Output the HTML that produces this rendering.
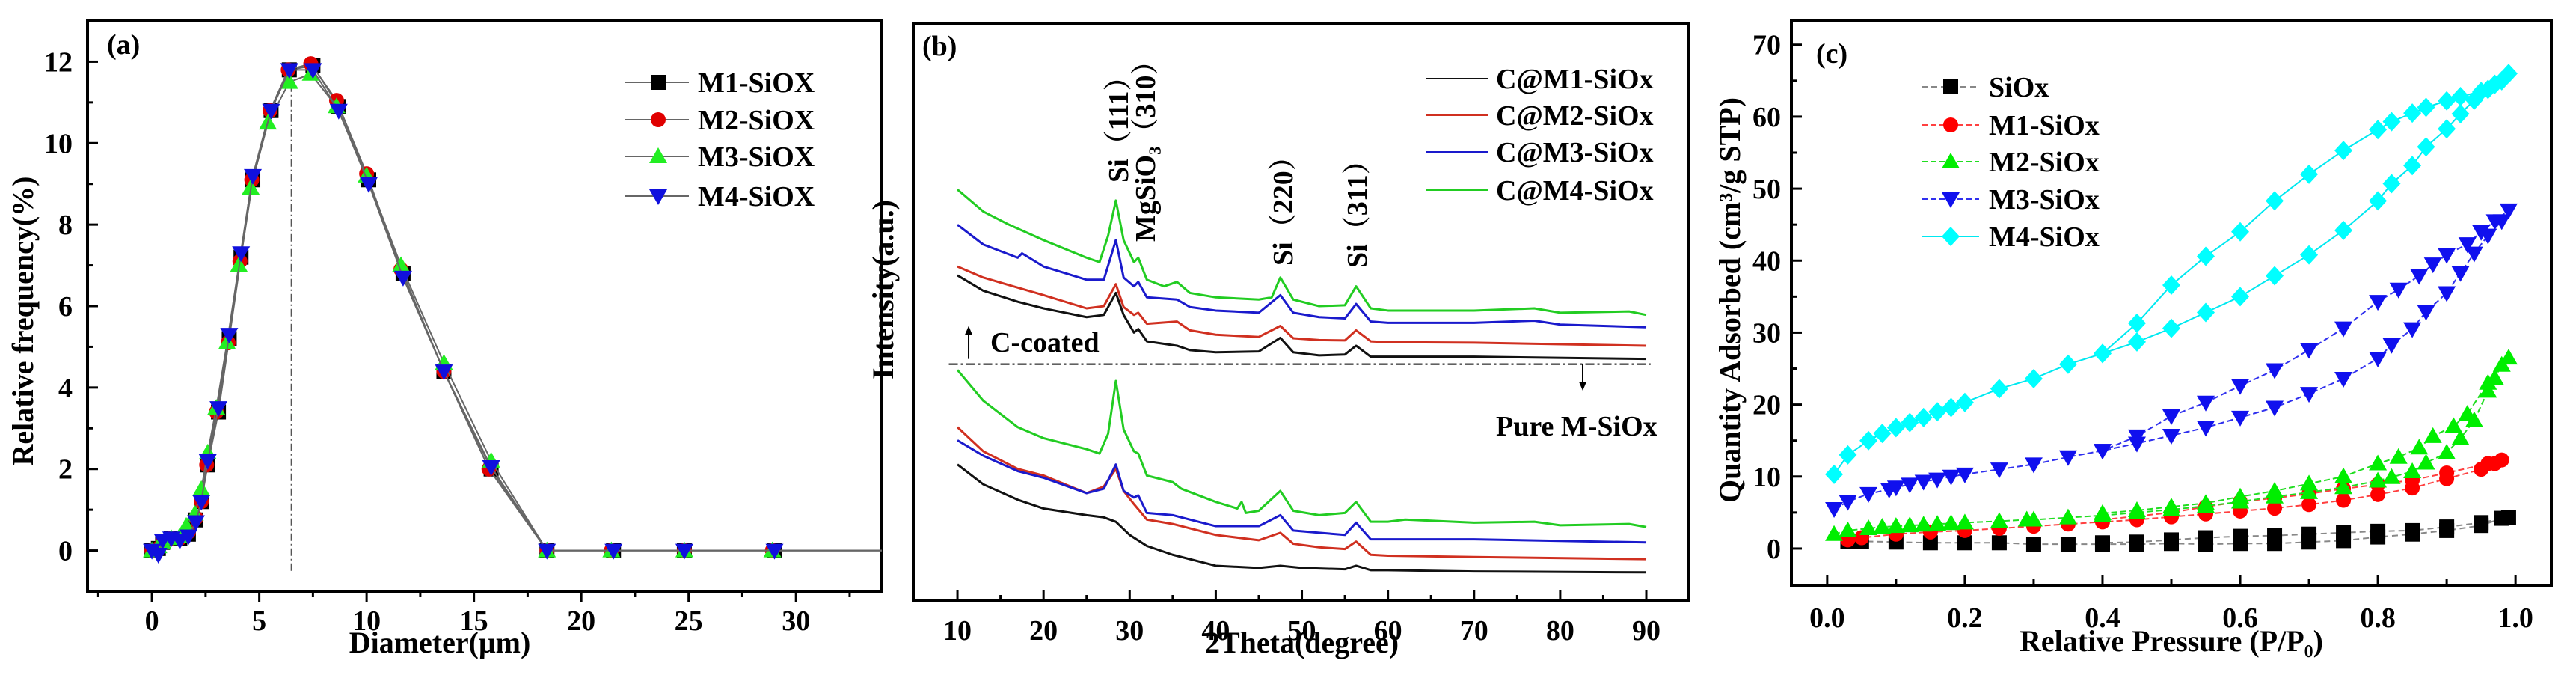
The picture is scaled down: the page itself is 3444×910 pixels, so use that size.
<!DOCTYPE html>
<html><head><meta charset="utf-8"><style>
html,body{margin:0;padding:0;background:#fff;}
svg{display:block;font-family:"Liberation Serif",serif;font-weight:bold;}
</style></head><body>
<svg id="fig" width="3444" height="910" viewBox="0 0 3444 910" xmlns="http://www.w3.org/2000/svg"></svg>
<script>
// ---------- Panel (a) data ----------
const aX_M4=[0,0.3,0.5,0.9,1.3,1.7,2.05,2.3,2.6,3.1,3.6,4.15,4.7,5.55,6.4,7.5,8.7,10.1,11.7,13.6,15.8,18.4,21.5,24.8,29.0];
const aY_M4=[0,-0.1,0.25,0.3,0.25,0.35,0.7,1.2,2.2,3.5,5.3,7.3,9.2,10.8,11.8,11.8,10.8,9.0,6.7,4.4,2.05,0,0,0,0];
const aX_M1=[0,0.3,0.5,0.9,1.3,1.7,2.05,2.3,2.6,3.1,3.6,4.15,4.7,5.55,6.4,7.5,8.7,10.1,11.7,13.6,15.8,18.4,21.5,24.8,29.0];
const aY_M1=[0,0.05,0.2,0.3,0.3,0.4,0.75,1.2,2.1,3.4,5.2,7.2,9.1,10.8,11.8,11.9,10.9,9.1,6.8,4.4,2.0,0,0,0,0];
const aX_M2=[0,0.3,0.5,0.9,1.3,1.7,2.05,2.3,2.55,3.0,3.55,4.1,4.65,5.5,6.35,7.4,8.6,10.0,11.6,13.6,15.7,18.4,21.4,24.8,28.9];
const aY_M2=[0,0.05,0.2,0.3,0.3,0.45,0.8,1.2,2.1,3.4,5.1,7.1,9.1,10.8,11.8,11.95,11.05,9.25,6.9,4.4,2.0,0,0,0,0];
const aX_M3=[0,0.3,0.5,0.9,1.3,1.6,2.0,2.3,2.6,3.0,3.5,4.05,4.6,5.4,6.4,7.4,8.6,10.0,11.6,13.6,15.8,18.4,21.4,24.8,28.9];
const aY_M3=[0,0.1,0.2,0.3,0.35,0.6,0.9,1.5,2.4,3.5,5.1,7.0,8.9,10.5,11.5,11.7,10.9,9.2,7.0,4.6,2.2,0,0,0,0];
const aXTicks=[0,5,10,15,20,25,30];
const aYTicks=[0,2,4,6,8,10,12];
const aNames=["M1-SiOX","M2-SiOX","M3-SiOX","M4-SiOX"];
const aMedian=6.5;

// ---------- Panel (b) data (2theta, intensity a.u.) ----------
const b_tt_M4u=[10,13,16,20,25,26.5,27.5,28.4,29.3,30.5,31,32,34,35.5,37,40,45,46.5,47.5,49,52,55,56.3,58,60,70,77,80,88,90];
const b_I_M4u=[935,885,855,820,780,770,830,910,820,770,780,730,715,725,700,690,685,690,735,685,670,672,715,665,660,660,665,655,658,650];
const b_tt_M3u=[10,13,17,17.5,20,25,27,28.4,29.3,30.5,31,32,35.5,37,40,45,47.5,49,52,55,56.3,58,60,70,77,80,90];
const b_I_M3u=[855,810,780,790,760,730,730,820,735,715,725,690,685,668,660,655,695,655,645,642,675,635,632,632,637,628,622];
const b_tt_M2u=[10,13,17,20,25,27,28.4,29.3,30.5,31,32,35.5,37,40,45,47.5,49,52,55,56.3,58,60,70,90];
const b_I_M2u=[760,735,712,695,665,670,720,668,650,655,630,635,615,605,600,625,597,593,592,615,590,588,587,580];
const b_tt_M1u=[10,13,17,20,25,27,28.4,29.3,30.5,31,32,35.5,37,40,45,47.5,49,52,55,56.3,58,60,70,90];
const b_I_M1u=[740,705,680,665,645,650,700,650,610,618,590,580,570,565,567,598,565,558,560,580,555,555,555,550];
const b_tt_M4l=[10,13,17,20,25,26.5,27.5,28.4,29.3,30.5,31,32,35,36,40,42.5,43,43.5,45,47.5,49,52,55,56.3,58,60,62,70,77,80,88,90];
const b_I_M4l=[525,455,395,370,345,335,380,500,390,340,335,285,270,255,225,210,225,200,205,250,205,195,200,225,180,180,185,178,180,172,175,168];
const b_tt_M3l=[10,13,17,20,25,27,28.4,29.3,30.5,31,32,35,36,40,45,47.5,49,52,55,56.3,58,60,70,90];
const b_I_M3l=[365,330,295,280,245,255,310,250,235,240,200,195,190,170,170,195,160,155,150,178,140,140,140,133];
const b_tt_M2l=[10,13,17,20,25,27,28.4,29.3,30.5,32,35,40,45,47.5,49,52,55,56.3,58,60,70,90];
const b_I_M2l=[395,340,300,285,245,260,300,250,220,185,175,150,138,155,130,122,118,135,105,103,100,95];
const b_tt_M1l=[10,13,17,20,25,27,28.4,30,32,35,40,45,47.5,50,55,56.3,58,60,70,90];
const b_I_M1l=[310,265,230,210,195,190,180,150,125,105,80,75,80,75,72,80,70,70,67,65];
const bXTicks=[10,20,30,40,50,60,70,80,90];
const bNames=["C@M1-SiOx","C@M2-SiOx","C@M3-SiOx","C@M4-SiOx"];
const bDivider=538;

// ---------- Panel (c) data ----------
const cP_S=[0.03,0.05,0.1,0.15,0.2,0.25,0.3,0.35,0.4,0.45,0.5,0.55,0.6,0.65,0.7,0.75,0.8,0.85,0.9,0.95,0.98,0.99,0.95,0.9,0.85,0.8,0.75,0.7,0.65,0.6,0.55,0.5,0.45,0.4];
const cQ_S=[1,1,0.9,0.8,0.8,0.8,0.6,0.6,0.6,0.6,0.7,0.6,0.7,0.7,0.9,1.1,1.6,2.0,2.5,3.2,4.2,4.3,3.6,3.0,2.5,2.4,2.2,2.0,1.8,1.7,1.5,1.2,0.9,0.8];
const cP_1=[0.03,0.05,0.1,0.15,0.2,0.25,0.3,0.35,0.4,0.45,0.5,0.55,0.6,0.65,0.7,0.75,0.8,0.85,0.9,0.95,0.97,0.98,0.96,0.9,0.85,0.8,0.75,0.7,0.65,0.6,0.55,0.5,0.45,0.4];
const cQ_1=[1.2,1.5,2.0,2.3,2.5,2.8,3.1,3.4,3.7,4.0,4.4,4.8,5.2,5.6,6.1,6.7,7.5,8.4,9.7,11,11.8,12.3,11.8,10.5,9.5,8.9,8.3,7.6,7.0,6.5,5.8,5.0,4.5,4.0];
const cP_2=[0.01,0.03,0.06,0.08,0.1,0.12,0.14,0.16,0.18,0.2,0.25,0.29,0.3,0.35,0.4,0.45,0.5,0.55,0.6,0.65,0.7,0.75,0.8,0.82,0.85,0.87,0.9,0.92,0.94,0.96,0.97,0.98,0.99,0.96,0.93,0.91,0.88,0.86,0.83,0.8,0.75,0.7,0.65,0.6,0.55,0.5,0.45,0.4];
const cQ_2=[2,2.5,2.8,3.0,3.1,3.2,3.3,3.4,3.5,3.6,3.8,4.0,4.0,4.3,4.6,5.0,5.4,5.9,6.5,7.2,7.8,8.5,9.4,9.9,10.7,11.9,13.3,15.3,17.8,21.9,23.7,25.5,26.5,23,18.7,17,15.6,14,12.7,11.8,10,9.0,8.0,7.2,6.3,5.8,5.3,4.9];
const cP_3=[0.01,0.03,0.06,0.09,0.1,0.12,0.14,0.16,0.18,0.2,0.25,0.3,0.35,0.4,0.45,0.5,0.55,0.6,0.65,0.7,0.75,0.8,0.82,0.85,0.87,0.9,0.92,0.94,0.96,0.98,0.99,0.97,0.95,0.93,0.9,0.88,0.86,0.83,0.8,0.75,0.7,0.65,0.6,0.55,0.5,0.45,0.4];
const cQ_3=[5.5,6.5,7.6,8.2,8.5,8.9,9.3,9.6,10,10.3,11.0,11.7,12.7,13.6,14.6,15.7,16.8,18.2,19.6,21.5,23.6,26.4,28.3,30.5,32.9,35.5,38.3,41,43.5,45.5,47,45.5,44,42.3,40.8,39.5,37.9,36,34.3,30.6,27.6,24.8,22.6,20.3,18.4,15.6,13.6];
const cP_4=[0.01,0.03,0.06,0.08,0.1,0.12,0.14,0.16,0.18,0.2,0.25,0.3,0.35,0.4,0.45,0.5,0.55,0.6,0.65,0.7,0.75,0.8,0.82,0.85,0.87,0.9,0.92,0.94,0.96,0.98,0.99,0.97,0.95,0.92,0.9,0.87,0.85,0.82,0.8,0.75,0.7,0.65,0.6,0.55,0.5,0.45,0.4];
const cQ_4=[10.3,13,15,16,16.8,17.5,18.2,19,19.6,20.3,22.2,23.6,25.6,27.1,28.7,30.6,32.8,35.0,37.9,40.8,44.2,48.3,50.7,53.2,55.8,58.3,60.4,62.3,63.8,65,66,64.5,63.5,62.8,62.2,61.3,60.5,59.3,58.2,55.3,52,48.3,44,40.6,36.6,31.3,27.1];
const cXTicks=[0,0.2,0.4,0.6,0.8,1.0];
const cYTicks=[0,10,20,30,40,50,60,70];
const cNames=["SiOx","M1-SiOx","M2-SiOx","M3-SiOx","M4-SiOx"];

const NS="http://www.w3.org/2000/svg";
const svg=document.getElementById('fig');
const TK=38, TT=40, LG=38;
function el(tag,attrs,parent){const e=document.createElementNS(NS,tag);for(const k in attrs)e.setAttribute(k,attrs[k]);(parent||svg).appendChild(e);return e;}
function lin(d0,d1,r0,r1){return v=>r0+(v-d0)/(d1-d0)*(r1-r0);}
function marker(g,shape,x,y,s,fill){
  let m;
  if(shape==='sq')m=el('rect',{x:x-s/2,y:y-s/2,width:s,height:s,fill:fill},g);
  else if(shape==='ci')m=el('circle',{cx:x,cy:y,r:s/2,fill:fill},g);
  else if(shape==='tu')m=el('polygon',{points:`${x},${y-s*0.6} ${x-s*0.6},${y+s*0.45} ${x+s*0.6},${y+s*0.45}`,fill:fill},g);
  else if(shape==='td')m=el('polygon',{points:`${x},${y+s*0.6} ${x-s*0.6},${y-s*0.45} ${x+s*0.6},${y-s*0.45}`,fill:fill},g);
  else m=el('polygon',{points:`${x},${y-s*0.65} ${x+s*0.6},${y} ${x},${y+s*0.65} ${x-s*0.6},${y}`,fill:fill},g);
  return m;
}
function text(g,x,y,str,size,anchor,extra){const t=el('text',Object.assign({x:x,y:y,'font-size':size,'text-anchor':anchor||'middle'},extra||{}),g);t.textContent=str;return t;}

// ================= Panel A =================
{
const L=117,R=1179,T=28,B=790;
const X=lin(-3,34,L,R),Y=lin(-1,13,B,T);
const g=el('g',{});


const f=el('rect',{x:L,y:T,width:R-L,height:B-T,fill:'none',stroke:'#000','stroke-width':4},g);


aXTicks.forEach(v=>{el('line',{x1:X(v),x2:X(v),y1:B,y2:B+14,stroke:'#000','stroke-width':3},g);
  const t=text(g,X(v),B+52,String(v),TK);});
for(let v=-2.5;v<34;v+=5)el('line',{x1:X(v),x2:X(v),y1:B,y2:B+8,stroke:'#000','stroke-width':3},g);
aYTicks.forEach(v=>{el('line',{x1:L,x2:L+14,y1:Y(v),y2:Y(v),stroke:'#000','stroke-width':3},g);
  const t=text(g,L-20,Y(v)+13,String(v),TK,'end');});
for(let v=-1;v<13;v+=2)el('line',{x1:L,x2:L+8,y1:Y(v),y2:Y(v),stroke:'#000','stroke-width':3},g);
const xt=text(g,(L+R)/2-60,872,'Diameter(μm)',TT);
const yt=text(g,0,0,'Relative frequency(%)',TT,'middle',{transform:`translate(44,${(T+B)/2+20}) rotate(-90)`});
const pl=text(g,143,72,'(a)',LG,'start');
const md=el('line',{x1:X(aMedian),x2:X(aMedian),y1:Y(-0.5),y2:Y(11.8),stroke:'#555','stroke-width':2,'stroke-dasharray':'10,4,2,4'},g);

const sers=[[aX_M1,aY_M1,'sq','#000'],[aX_M2,aY_M2,'ci','#e00000'],[aX_M3,aY_M3,'tu','#22ee22'],[aX_M4,aY_M4,'td','#1010dd']];
sers.forEach((s,i)=>{
  const sg=el('g',{},g);
  
  
  const pts=s[0].map((x,j)=>X(x)+','+Y(s[1][j])).join(' ')+' '+R+','+Y(0);
  el('polyline',{points:pts,fill:'none',stroke:'#666','stroke-width':2},sg);
  s[0].forEach((x,j)=>{const m=marker(sg,s[2],X(x),Y(s[1][j]),20,s[3]);});
  const ly=[110,160,209,262][i];
  const lg=el('g',{},g);
  
  
  el('line',{x1:836,x2:921,y1:ly,y2:ly,stroke:'#666','stroke-width':2},lg);
  marker(lg,s[2],880,ly,20,s[3]);
  text(lg,933,ly+13,aNames[i],LG,'start');
});
}

// ================= Panel B =================
{
const L=1221,R=2258,T=31,B=803;
const X=lin(4.87,94.95,L,R),Y=lin(0,1313,B,T);
const g=el('g',{});


const f=el('rect',{x:L,y:T,width:R-L,height:B-T,fill:'none',stroke:'#000','stroke-width':4},g);


bXTicks.forEach(v=>{el('line',{x1:X(v),x2:X(v),y1:B,y2:B-14,stroke:'#000','stroke-width':3},g);
  const t=text(g,X(v),B+52,String(v),TK);});
for(let v=15;v<90;v+=10)el('line',{x1:X(v),x2:X(v),y1:B,y2:B-8,stroke:'#000','stroke-width':3},g);
const xt=text(g,X(50),872,'2Theta(degree)',TT);
const yt=text(g,0,0,'Intensity(a.u.)',TT,'middle',{transform:`translate(1194,387) rotate(-90)`});
const pl=text(g,1233,74,'(b)',LG,'start');
const cols=['#111','#d03020','#1a1acc','#22cc22'];
const curves=[[b_tt_M1l,b_I_M1l,0],[b_tt_M2l,b_I_M2l,1],[b_tt_M3l,b_I_M3l,2],[b_tt_M4l,b_I_M4l,3],[b_tt_M1u,b_I_M1u,0],[b_tt_M2u,b_I_M2u,1],[b_tt_M3u,b_I_M3u,2],[b_tt_M4u,b_I_M4u,3]];
curves.forEach((c,k)=>{
  const p=el('polyline',{points:c[0].map((x,j)=>X(x)+','+Y(c[1][j])).join(' '),fill:'none',stroke:cols[c[2]],'stroke-width':3,'stroke-linejoin':'round'},g);
  
  
});
const dv=el('line',{x1:X(9),x2:X(90.5),y1:Y(bDivider),y2:Y(bDivider),stroke:'#000','stroke-width':2,'stroke-dasharray':'12,4,3,4'},g);

const a1=el('g',{},g);
el('line',{x1:X(11.3),x2:X(11.3),y1:Y(550),y2:Y(618),stroke:'#000','stroke-width':2},a1);
el('polygon',{points:`${X(11.3)},${Y(625)} ${X(11.3)-5},${Y(605)} ${X(11.3)+5},${Y(605)}`,fill:'#000'},a1);
text(a1,1324,470,'C-coated',LG,'start');
const a2=el('g',{},g);
el('line',{x1:2116,x2:2116,y1:Y(bDivider),y2:Y(485),stroke:'#000','stroke-width':2},a2);
el('polygon',{points:`2116,${Y(478)} 2111,${Y(498)} 2121,${Y(498)}`,fill:'#000'},a2);
text(a2,2000,582,'Pure M-SiOx',LG,'start');
const labs=[[1495,244,'Si（111）'],[1531,323,'MgSiO₃（310）'],[1715,355,'Si（220）'],[1814,358,'Si（311）']];
labs.forEach(l=>{const t=text(g,0,0,l[2],LG,'start',{transform:`translate(${l[0]+13},${l[1]}) rotate(-90)`});
  t.setAttribute('font-family','"Liberation Serif","Noto Serif CJK SC",serif');});
bNames.forEach((n,i)=>{const ly=[105,154,203,254][i];
  const lg=el('g',{},g);
  el('line',{x1:1906,x2:1990,y1:ly,y2:ly,stroke:cols[i],'stroke-width':2},lg);
  text(lg,2000,ly+13,n,LG,'start');});
}

// ================= Panel C =================
{
const L=2395,R=3411,T=28,B=782;
const X=lin(-0.052,1.052,L,R),Y=lin(-5.1,73.3,B,T);
const g=el('g',{});


const f=el('rect',{x:L,y:T,width:R-L,height:B-T,fill:'none',stroke:'#000','stroke-width':4},g);


cXTicks.forEach(v=>{el('line',{x1:X(v),x2:X(v),y1:B,y2:B-14,stroke:'#000','stroke-width':3},g);
  const t=text(g,X(v),B+56,v.toFixed(1),TK);});
for(let v=0.1;v<1;v+=0.2)el('line',{x1:X(v),x2:X(v),y1:B,y2:B-8,stroke:'#000','stroke-width':3},g);
cYTicks.forEach(v=>{el('line',{x1:L,x2:L+14,y1:Y(v),y2:Y(v),stroke:'#000','stroke-width':3},g);
  const t=text(g,L-14,Y(v)+13,String(v),TK,'end');});
for(let v=5;v<70;v+=10)el('line',{x1:L,x2:L+8,y1:Y(v),y2:Y(v),stroke:'#000','stroke-width':3},g);
const xt=text(g,X(0.5),870,'Relative Pressure (P/P₀)',TT);
const yt=text(g,0,0,'Quantity Adsorbed (cm³/g STP)',TT,'middle',{transform:`translate(2326,401) rotate(-90)`});
const pl=text(g,2428,84,'(c)',LG,'start');
const sers=[[cP_S,cQ_S,'sq','#000','#888','8,5'],[cP_1,cQ_1,'ci','#ff0000','#ff4040','8,4'],[cP_2,cQ_2,'tu','#00ee00','#20dd20','8,4'],[cP_3,cQ_3,'td','#1010ee','#3030ee','8,4'],[cP_4,cQ_4,'di','#00ffff','#00e8f0','none']];
sers.forEach((s,i)=>{
  const sg=el('g',{},g);
  
  
  el('polyline',{points:s[0].map((x,j)=>X(x)+','+Y(s[1][j])).join(' '),fill:'none',stroke:s[4],'stroke-width':2,'stroke-dasharray':s[5]},sg);
  s[0].forEach((x,j)=>{const m=marker(sg,s[2],X(x),Y(s[1][j]),20,s[3]);});
  const ly=[116,167,216,266,316][i];
  const lg=el('g',{},g);
  el('line',{x1:2569,x2:2646,y1:ly,y2:ly,stroke:s[4],'stroke-width':2,'stroke-dasharray':s[5]},lg);
  marker(lg,s[2],2608,ly,20,s[3]);
  text(lg,2659,ly+13,cNames[i],LG,'start');
});
}
</script>
</body></html>
